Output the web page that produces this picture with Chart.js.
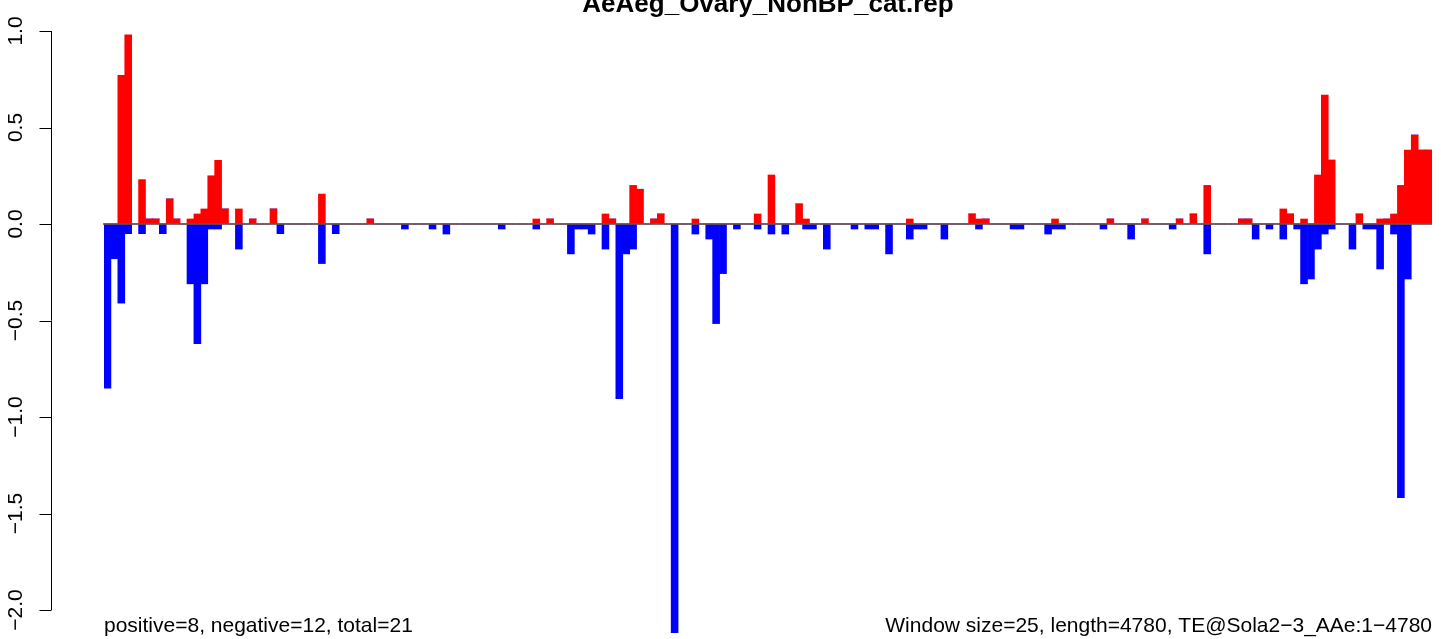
<!DOCTYPE html>
<html><head><meta charset="utf-8">
<script src="https://cdn.jsdelivr.net/npm/chart.js@4/dist/chart.umd.min.js"></script>
<style>html,body{margin:0;padding:0;background:#fff;overflow:hidden}canvas{display:block}</style>
</head><body>
<canvas id="c" width="1441" height="639"></canvas>
<script>
const TITLE = "AeAeg_Ovary_NonBP_cat.rep";
const WINDOW_SIZE = 25;
const positive = [
  0, 0, 0.77, 0.98, 0, 0.23, 0.026, 0.026, 0, 0.13,
  0.026, 0, 0.026, 0.052, 0.078, 0.25, 0.33, 0.078, 0, 0.078,
  0, 0.026, 0, 0, 0.078, 0, 0, 0, 0, 0,
  0, 0.155, 0, 0, 0, 0, 0, 0, 0.026, 0,
  0, 0, 0, 0, 0, 0, 0, 0, 0, 0,
  0, 0, 0, 0, 0, 0, 0, 0, 0, 0,
  0, 0, 0.026, 0, 0.026, 0, 0, 0, 0, 0,
  0, 0, 0.052, 0.026, 0, 0, 0.2, 0.18, 0, 0.026,
  0.052, 0, 0, 0, 0, 0.026, 0, 0, 0, 0,
  0, 0, 0, 0, 0.052, 0, 0.254, 0, 0, 0,
  0.104, 0.026, 0, 0, 0, 0, 0, 0, 0, 0,
  0, 0, 0, 0, 0, 0, 0.026, 0, 0, 0,
  0, 0, 0, 0, 0, 0.052, 0.026, 0.026, 0, 0,
  0, 0, 0, 0, 0, 0, 0, 0.026, 0, 0,
  0, 0, 0, 0, 0, 0.026, 0, 0, 0, 0,
  0.026, 0, 0, 0, 0, 0.026, 0, 0.052, 0, 0.2,
  0, 0, 0, 0, 0.026, 0.026, 0, 0, 0, 0,
  0.078, 0.052, 0, 0.026, 0, 0.254, 0.668, 0.332, 0, 0,
  0, 0.052, 0, 0, 0.026, 0.026, 0.052, 0.2, 0.383, 0.461,
  0.383, 0.383
];
const negative = [
  -0.85, -0.18, -0.41, -0.05, 0, -0.05, 0, 0, -0.05, 0,
  0, 0, -0.31, -0.62, -0.31, -0.026, -0.026, 0, 0, -0.13,
  0, 0, 0, 0, 0, -0.05, 0, 0, 0, 0,
  0, -0.205, 0, -0.05, 0, 0, 0, 0, 0, 0,
  0, 0, 0, -0.026, 0, 0, 0, -0.026, 0, -0.052,
  0, 0, 0, 0, 0, 0, 0, -0.026, 0, 0,
  0, 0, -0.026, 0, 0, 0, 0, -0.155, -0.026, -0.026,
  -0.052, 0, -0.13, 0, -0.905, -0.155, -0.13, 0, 0, 0,
  0, 0, -2.118, 0, 0, -0.052, 0, -0.078, -0.516, -0.257,
  0, -0.026, 0, 0, -0.026, 0, -0.052, 0, -0.052, 0,
  0, -0.026, -0.026, 0, -0.13, 0, 0, 0, -0.026, 0,
  -0.026, -0.026, 0, -0.155, 0, 0, -0.078, -0.026, -0.026, 0,
  0, -0.078, 0, 0, 0, 0, -0.026, 0, 0, 0,
  0, -0.026, -0.026, 0, 0, 0, -0.052, -0.026, -0.026, 0,
  0, 0, 0, 0, -0.026, 0, 0, 0, -0.078, 0,
  0, 0, 0, 0, -0.026, 0, 0, 0, 0, -0.155,
  0, 0, 0, 0, 0, 0, -0.078, 0, -0.026, 0,
  -0.078, 0, -0.026, -0.31, -0.285, -0.13, -0.052, -0.026, 0, 0,
  -0.13, 0, -0.026, -0.026, -0.233, 0, -0.052, -1.418, -0.285, 0,
  0, 0
];
const yTickValues = [1.0, 0.5, 0.0, -0.5, -1.0, -1.5, -2.0];
const yTickLabels = ["1.0", "0.5", "0.0", "\u22120.5", "\u22121.0", "\u22121.5", "\u22122.0"];
const leftNote = "positive=8, negative=12, total=21";
const rightNote = "Window size=25, length=4780, TE@Sola2\u22123_AAe:1\u22124780";
const categories = positive.map((_, i) => i * WINDOW_SIZE + 1);

const FONT = '"Liberation Sans", Arial, Helvetica, sans-serif';

const decor = {
  id: 'decor',
  afterDatasetsDraw(chart) {
    const ctx = chart.ctx, y = chart.scales.y, a = chart.chartArea;
    const y0 = y.getPixelForValue(0);
    ctx.save();
    ctx.strokeStyle = '#5a5a5a';
    ctx.lineWidth = 1.4;
    ctx.beginPath();
    ctx.moveTo(a.left - 1, y0);
    ctx.lineTo(a.right, y0);
    ctx.stroke();
    ctx.restore();
  },
  afterDraw(chart) {
    const ctx = chart.ctx, y = chart.scales.y, a = chart.chartArea;
    ctx.save();
    // y axis
    const axisX = 51;
    const yTop = y.getPixelForValue(yTickValues[0]);
    const yBot = y.getPixelForValue(yTickValues[yTickValues.length - 1]);
    ctx.strokeStyle = '#000';
    ctx.lineWidth = 1;
    ctx.beginPath();
    ctx.moveTo(axisX + 0.5, yTop);
    ctx.lineTo(axisX + 0.5, yBot);
    yTickValues.forEach(v => {
      const p = Math.round(y.getPixelForValue(v)) + 0.5;
      ctx.moveTo(axisX + 0.5, p);
      ctx.lineTo(axisX - 11.5, p);
    });
    ctx.stroke();
    ctx.fillStyle = '#000';
    ctx.font = '21px ' + FONT;
    ctx.textAlign = 'center';
    ctx.textBaseline = 'alphabetic';
    yTickValues.forEach((v, i) => {
      const p = y.getPixelForValue(v);
      ctx.save();
      ctx.translate(22, p);
      ctx.rotate(-Math.PI / 2);
      ctx.fillText(yTickLabels[i], 0, 0);
      ctx.restore();
    });
    // notes
    ctx.textAlign = 'left';
    ctx.fillText(leftNote, a.left, 632);
    ctx.textAlign = 'right';
    ctx.fillText(rightNote, a.right, 632);
    // title
    ctx.font = 'bold 26px ' + FONT;
    ctx.textAlign = 'center';
    ctx.fillText(TITLE, (a.left + a.right) / 2, 12);
    ctx.restore();
  }
};

new Chart(document.getElementById('c'), {
  type: 'bar',
  data: {
    labels: categories,
    datasets: [
      { label: 'positive', data: positive, backgroundColor: '#ff0000', borderWidth: 0 },
      { label: 'negative', data: negative, backgroundColor: '#0000ff', borderWidth: 0 }
    ]
  },
  options: {
    responsive: false,
    devicePixelRatio: 1,
    animation: false,
    layout: { padding: { left: 104, right: 9, top: 0, bottom: 0 } },
    datasets: { bar: { barPercentage: 1, categoryPercentage: 1 } },
    plugins: { legend: { display: false }, title: { display: false }, tooltip: { enabled: false } },
    scales: {
      x: { display: false, stacked: true, offset: true },
      y: { display: false, stacked: true, min: -415 / 193, max: 224 / 193 }
    }
  },
  plugins: [decor]
});
</script>
</body></html>
